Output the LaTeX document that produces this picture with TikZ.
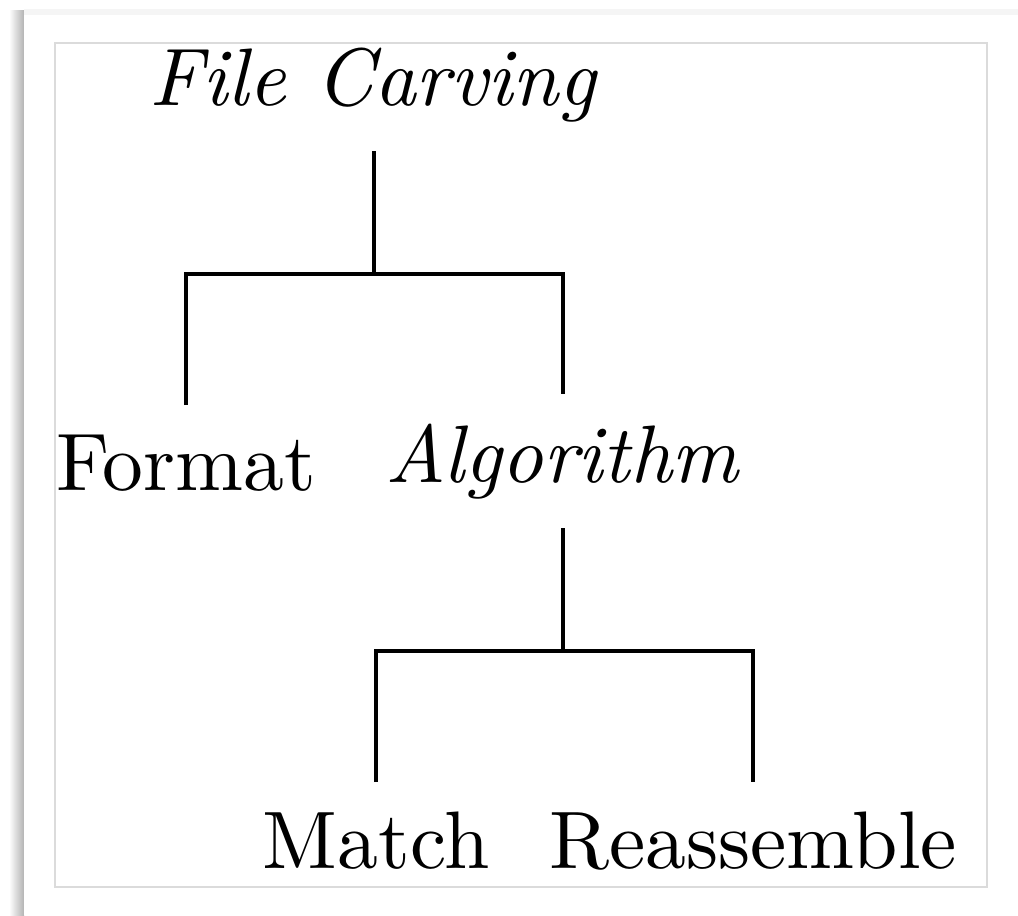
\documentclass[tikz,border=0pt]{standalone}
\usetikzlibrary{calc}
\begin{document}
\begin{tikzpicture}[x=0.12255pt,y=-0.12255pt,
  lab/.style={inner sep=0pt, outer sep=3.6pt, anchor=base},
  branch/.style={line width=0.42pt, line join=miter}]
\useasboundingbox (0,0) rectangle (1018,915);
% page shadow
\shade[left color=white, right color=black!30] (9,10) rectangle (24,915);
\fill[black!4] (24,9) rectangle (1018,15);
\fill[white] (24,15) rectangle (1018,915);
% inner frame
\draw[black!14, line width=0.3pt] (55,43) rectangle (987,887);
% nodes
\node[lab] (fc)  at (374,105) {\textit{File Carving}};
\node[lab] (fmt) at (186,490) {Format};
\node[lab] (alg) at (563,482) {\textit{Algorithm}};
\node[lab] (mat) at (376,868) {Match};
\node[lab] (rea) at (753,868) {Reassemble};
\coordinate (j1) at (375,274);
\coordinate (j2) at (563,651);
% branches
\draw[branch] (fc.south) -- (fc.south |- j1);
\draw[branch] (fmt.north) |- (alg.north |- j1) -- (alg.north);
\draw[branch] (alg.south) -- (alg.south |- j2);
\draw[branch] (mat.north) |- (rea.north |- j2) -- (rea.north);
\end{tikzpicture}
\end{document}
